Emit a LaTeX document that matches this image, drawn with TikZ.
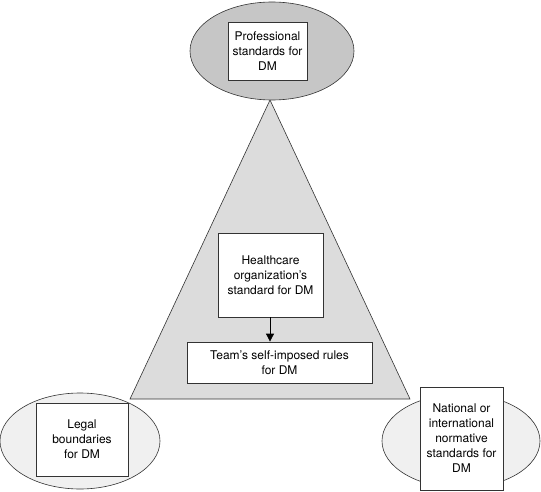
\documentclass[tikz,border=0pt]{standalone}
\usepackage{fontspec}
\setmainfont{TeX Gyre Heros}
\usetikzlibrary{shapes.geometric,arrows.meta}
\definecolor{topgray}{HTML}{C6C6C6}
\definecolor{trigray}{HTML}{DCDCDC}
\definecolor{lowgray}{HTML}{F0F0F0}
\definecolor{linegray}{HTML}{333333}
\tikzset{
  oval/.style={ellipse, draw=linegray, line width=0.6pt, inner sep=0pt},
  txtbox/.style={rectangle, draw=linegray, fill=white, line width=0.8pt, inner sep=0pt, align=center,
    font=\fontsize{12}{15}\selectfont},
}
\begin{document}
\begin{tikzpicture}[x=1pt,y=1pt]
\useasboundingbox (0,0) rectangle (541,491);
% triangle
\coordinate (apex) at (270,391);
\coordinate (bl) at (130,92);
\coordinate (br) at (410,92);
\draw[fill=trigray, draw=linegray, line width=0.6pt] (apex) -- (bl) -- (br) -- cycle;
% ellipses
\node[oval, fill=topgray, minimum width=164pt, minimum height=98pt] (etop) at (272,440) {};
\node[oval, fill=lowgray, minimum width=160pt, minimum height=96pt] (eleft) at (80,50) {};
\node[oval, fill=lowgray, minimum width=158pt, minimum height=94pt] (eright) at (461,50) {};
% boxes
\node[txtbox, minimum width=79pt, minimum height=58pt] (btop) at (267.5,440) {Professional\\standards for\\DM};
\node[txtbox, minimum width=92pt, minimum height=73pt] (bleft) at (82,51.5) {Legal\\boundaries\\for DM};
\node[txtbox, minimum width=83pt, minimum height=103pt] (bright) at (461.5,52.5) {National or\\international\\normative\\standards for\\DM};
\node[txtbox, minimum width=105pt, minimum height=84pt] (borg) at (270.5,216) {Healthcare\\organization's\\standard for DM};
\node[txtbox, minimum width=185pt, minimum height=41pt] (bteam) at (279.5,128.5) {Team's self-imposed rules\\for DM};
\draw[-{Triangle[length=8pt,width=8pt]}, draw=black, line width=0.8pt] (borg.south -| 270,0) -- (bteam.north -| 270,0);
\end{tikzpicture}
\end{document}
